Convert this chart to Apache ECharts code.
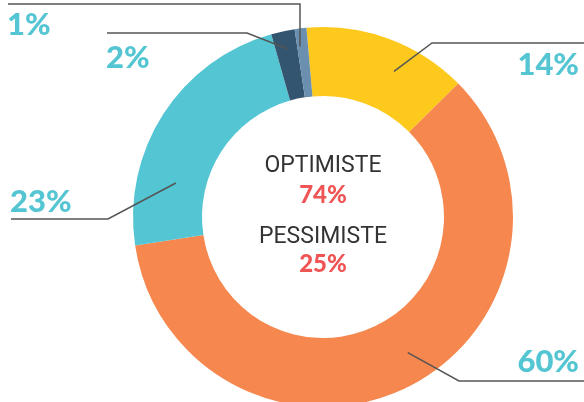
<!DOCTYPE html>
<html>
<head>
<meta charset="utf-8">
<script src="https://cdn.jsdelivr.net/npm/echarts@6/dist/echarts.min.js"></script>
<style>
  html, body { margin: 0; padding: 0; background: #fff; }
  #chart { width: 584px; height: 402px; }
</style>
</head>
<body>
<div id="chart"></div>
<script>
// 数据
const sliceNames = ['A', 'B', 'C', 'D', 'E']
const sliceValues = [14, 60, 23, 2, 1]
const sliceColors = ['#fdc91d', '#f5874f', '#54c5d3', '#34556f', '#6b8fae']
const centerNames = ['OPTIMISTE', 'PESSIMISTE']
const centerValues = [74, 25]

// 图表位置
const cx = 323
const cy = 217

// 引导线：起点(角度, 半径)、拐点、终点，以及文字位置
const guides = [
  { a: 26, r: 162, elbow: [432, 43], end: [584, 43], text: [579, 65], align: 'right' },
  { a: 148, r: 160, elbow: [459, 381], end: [584, 381], text: [579, 362], align: 'right' },
  { a: 283, r: 151, elbow: [108, 219], end: [11, 219], text: [10, 202], align: 'left' },
  { a: 348, r: 172, elbow: [247, 33], end: [107, 33], text: [106, 58], align: 'left' },
  { a: 352.3, r: 172, elbow: [300, 4], end: [8, 4], text: [7, 25], align: 'left' }
]

const polar = (a, r) => {
  const rad = a * Math.PI / 180
  return [cx + r * Math.sin(rad), cy - r * Math.cos(rad)]
}

const chart = echarts.init(document.getElementById('chart'))

// 中间的文字
const centerTexts = []
const nameY = [166, 237]
const valueY = [195, 264]
centerNames.forEach((name, i) => {
  centerTexts.push({
    type: 'text', x: cx, y: nameY[i],
    style: { text: name, fill: '#333333', font: '23px Roboto', align: 'center', verticalAlign: 'middle' }
  })
  centerTexts.push({
    type: 'text', x: cx, y: valueY[i],
    style: { text: centerValues[i] + '%', fill: '#ef5554', font: '900 24px Lato', align: 'center', verticalAlign: 'middle' }
  })
})

const pieData = sliceValues.map((v, i) => ({
  name: sliceNames[i],
  value: v,
  itemStyle: { color: sliceColors[i] }
}))

chart.setOption({
  animation: false,
  graphic: centerTexts,
  series: [
    // 色块
    {
      type: 'pie',
      z: 2,
      center: [cx, cy],
      radius: [121, 190],
      startAngle: 95,
      silent: true,
      emphasis: { disabled: true },
      label: { show: false },
      labelLine: { show: false },
      data: pieData
    },
    // 标签和引导线（画在色块上面）
    {
      type: 'pie',
      z: 5,
      center: [cx, cy],
      radius: [121, 190],
      startAngle: 95,
      silent: true,
      emphasis: { disabled: true },
      itemStyle: { color: 'rgba(0,0,0,0)' },
      label: {
        show: true,
        position: 'outside',
        formatter: (p) => p.value + '%',
        color: '#54c5d3',
        fontFamily: 'Lato',
        fontWeight: 900,
        fontSize: 31
      },
      labelLine: {
        show: true,
        lineStyle: { color: '#555', width: 1.5 }
      },
      labelLayout: (params) => {
        const g = guides[params.dataIndex]
        return {
          x: g.text[0],
          y: g.text[1],
          align: g.align,
          verticalAlign: 'middle',
          labelLinePoints: [polar(g.a, g.r), g.elbow, g.end]
        }
      },
      data: sliceValues.map((v, i) => ({ name: sliceNames[i], value: v }))
    }
  ]
})
</script>
</body>
</html>
